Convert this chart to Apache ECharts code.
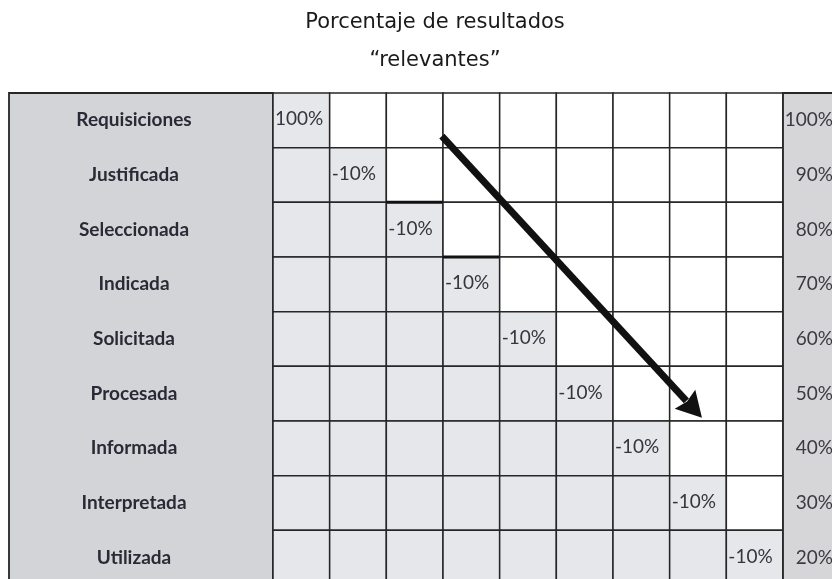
<!DOCTYPE html>
<html><head><meta charset="utf-8">
<script src="https://cdn.jsdelivr.net/npm/echarts@6/dist/echarts.min.js"></script>
<style>html,body{margin:0;padding:0;background:#fff}#c{width:832px;height:579px}</style>
</head><body><div id="c"></div>
<script>
// ---- data ----
const titleLines = ['Porcentaje de resultados', '\u201crelevantes\u201d'];
const rowLabels = ['Requisiciones','Justificada','Seleccionada','Indicada','Solicitada','Procesada','Informada','Interpretada','Utilizada'];
const stepLabels = ['100%','-10%','-10%','-10%','-10%','-10%','-10%','-10%','-10%'];
const remainingPct = [100, 90, 80, 70, 60, 50, 40, 30, 20];
const arrowFrom = [2.98, 0.79];   // [column, row] in cell units
const arrowTo = [7.57, 5.94];
const emphasizedTops = [2, 3];    // diagonal cells drawn with a heavier top rule

const nRows = rowLabels.length;
const nCols = stepLabels.length;
const cellData = [];
for (let r = 0; r < nRows; r++) for (let c = 0; c < nCols; c++) cellData.push([c, r]);

const LINE = '#262626';
const TEXT = '#35353f';
const LABEL_FONT = 'Lato, "Open Sans", sans-serif';
const TITLE_FONT = '21px "DejaVu Sans", Verdana, sans-serif';

const chart = echarts.init(document.getElementById('c'), null, {renderer: 'canvas'});

function yAxisFor(gi) {
  return {gridIndex: gi, type: 'value', min: 0, max: nRows, inverse: true, show: false};
}

const option = {
  animation: false,
  backgroundColor: '#ffffff',
  graphic: [
    {type: 'text', x: 435, y: 23, style: {text: titleLines[0], align: 'center', verticalAlign: 'middle', font: TITLE_FONT, fill: '#1a1a1a'}},
    {type: 'text', x: 435, y: 61, style: {text: titleLines[1], align: 'center', verticalAlign: 'middle', font: TITLE_FONT, fill: '#1a1a1a'}}
  ],
  grid: [
    {left: 9, top: 93, width: 264, height: 492, outerBoundsMode: 'none'},
    {left: 273, top: 93, width: 510, height: 492, outerBoundsMode: 'none'},
    {left: 783, top: 93, width: 49, height: 492, outerBoundsMode: 'none'}
  ],
  xAxis: [
    {gridIndex: 0, type: 'value', min: 0, max: 1, show: false},
    {gridIndex: 1, type: 'value', min: 0, max: nCols, show: false},
    {gridIndex: 2, type: 'value', min: 0, max: 1, show: false}
  ],
  yAxis: [yAxisFor(0), yAxisFor(1), yAxisFor(2)],
  series: [
    // left label column background
    {
      type: 'custom', xAxisIndex: 0, yAxisIndex: 0, silent: true,
      data: [[0, 0, 1, nRows]],
      renderItem: function (params, api) {
        const p0 = api.coord([api.value(0), api.value(1)]);
        const p1 = api.coord([api.value(2), api.value(3)]);
        return {type: 'rect', shape: {x: p0[0], y: p0[1], width: p1[0] - p0[0], height: p1[1] - p0[1]},
          style: {fill: '#d3d4d8', stroke: LINE, lineWidth: 1.8}};
      }
    },
    // row labels
    {
      type: 'custom', xAxisIndex: 0, yAxisIndex: 0, silent: true,
      data: rowLabels.map(function (l, i) { return [0.5, i + 0.5, l]; }),
      renderItem: function (params, api) {
        const p = api.coord([api.value(0), api.value(1)]);
        return {type: 'text', style: {text: rowLabels[params.dataIndex], x: p[0] - 7, y: p[1], align: 'center', verticalAlign: 'middle',
          font: 'bold 19px ' + LABEL_FONT, fill: '#2a2a36'}};
      }
    },
    // cells
    {
      type: 'custom', xAxisIndex: 1, yAxisIndex: 1, silent: true,
      data: cellData,
      renderItem: function (params, api) {
        const c = api.value(0), r = api.value(1);
        const p0 = api.coord([c, r]);
        const p1 = api.coord([c + 1, r + 1]);
        const children = [{type: 'rect', shape: {x: p0[0], y: p0[1], width: p1[0] - p0[0], height: p1[1] - p0[1]},
          style: {fill: c <= r ? '#e6e7ea' : '#ffffff', stroke: LINE, lineWidth: 1.5}}];
        if (c === r) {
          children.push({type: 'text', style: {text: stepLabels[r], x: p0[0] + 2, y: (p0[1] + p1[1]) / 2 - 1, align: 'left', verticalAlign: 'middle',
            font: '19px ' + LABEL_FONT, fill: TEXT}});
          if (emphasizedTops.indexOf(r) >= 0) {
            children.push({type: 'line', shape: {x1: p0[0], y1: p0[1], x2: p1[0], y2: p0[1]}, style: {stroke: '#111', lineWidth: 3}});
          }
        }
        return {type: 'group', children: children};
      }
    },
    // right remaining-percentage column background
    {
      type: 'custom', xAxisIndex: 2, yAxisIndex: 2, silent: true,
      data: [[0, 0, 1.2, nRows]],
      renderItem: function (params, api) {
        const p0 = api.coord([api.value(0), api.value(1)]);
        const p1 = api.coord([api.value(2), api.value(3)]);
        return {type: 'rect', shape: {x: p0[0], y: p0[1], width: p1[0] - p0[0], height: p1[1] - p0[1]},
          style: {fill: '#d6d6d9', stroke: LINE, lineWidth: 1.8}};
      }
    },
    {
      type: 'custom', xAxisIndex: 2, yAxisIndex: 2, silent: true,
      data: remainingPct.map(function (v, i) { return [1, i + 0.5, v]; }),
      renderItem: function (params, api) {
        const p = api.coord([api.value(0), api.value(1)]);
        return {type: 'text', style: {text: api.value(2) + '%', x: p[0] + 1, y: p[1], align: 'right', verticalAlign: 'middle',
          font: '19px ' + LABEL_FONT, fill: '#3a3a40'}};
      }
    },
    // arrow
    {
      type: 'custom', xAxisIndex: 1, yAxisIndex: 1, silent: true, z: 10,
      data: [[arrowFrom[0], arrowFrom[1], arrowTo[0], arrowTo[1]]],
      renderItem: function (params, api) {
        const a = api.coord([api.value(0), api.value(1)]);
        const b = api.coord([api.value(2), api.value(3)]);
        const dx = b[0] - a[0], dy = b[1] - a[1];
        const len = Math.sqrt(dx * dx + dy * dy);
        const ux = dx / len, uy = dy / len;
        const headLen = 25, headHalf = 14;
        const bx = b[0] - ux * headLen, by = b[1] - uy * headLen;
        return {type: 'group', children: [
          {type: 'line', shape: {x1: a[0], y1: a[1], x2: bx + ux * 2, y2: by + uy * 2}, style: {stroke: '#111', lineWidth: 7}},
          {type: 'polygon', shape: {points: [[b[0], b[1]], [bx - uy * headHalf, by + ux * headHalf], [bx + ux * 3, by + uy * 3], [bx + uy * headHalf, by - ux * headHalf]]},
            style: {fill: '#111'}}
        ]};
      }
    }
  ]
};
chart.setOption(option);
</script>
</body></html>
